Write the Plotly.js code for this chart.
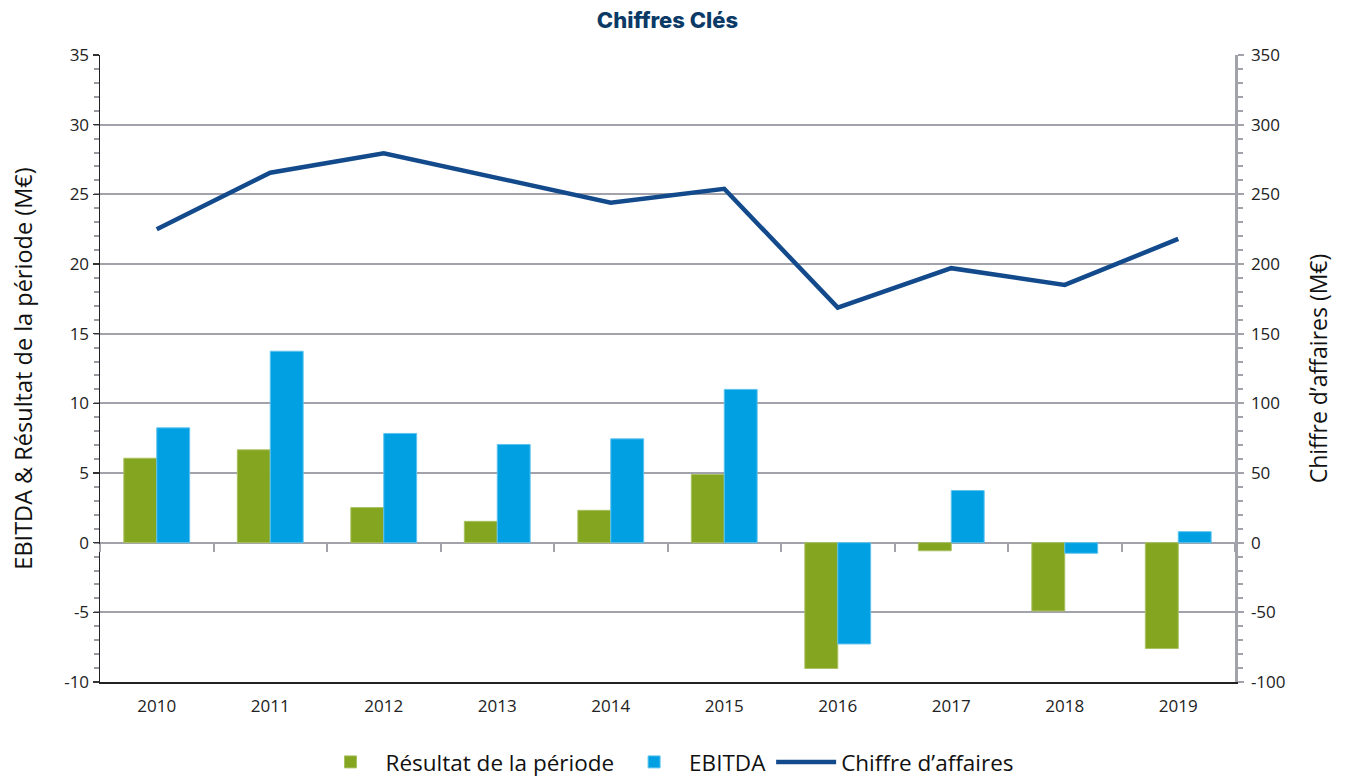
<!DOCTYPE html>
<html>
<head>
<meta charset="utf-8">
<script src="https://cdn.plot.ly/plotly-3.0.1.min.js"></script>
<style>html,body{margin:0;padding:0;background:#fff;}#chart{width:1352px;height:778px;}</style>
</head>
<body>
<div id="chart"></div>
<script>
// ---- data ----
const years = ['2010','2011','2012','2013','2014','2015','2016','2017','2018','2019'];
const resultat = [6.06, 6.66, 2.52, 1.53, 2.32, 4.89, -9.03, -0.58, -4.9, -7.6];
const ebitda = [8.24, 13.74, 7.84, 7.05, 7.45, 11.0, -7.27, 3.74, -0.76, 0.79];
const chiffreAffaires = [225, 265.5, 279.5, 262, 244, 254, 168.7, 197, 185, 218];
const leftTicks = [-10, -5, 0, 5, 10, 15, 20, 25, 30, 35];
const leftTickText = ['-10', '-5', '0', '5', '10', '15', '20', '25', '30', '35'];
const rightTicks = [-100, -50, 0, 50, 100, 150, 200, 250, 300, 350];
const rightTickText = ['-100', '-50', '0', '50', '100', '150', '200', '250', '300', '350'];

const GREEN = '#83a51f', BLUE = '#00a0e3', NAVY = '#134a8c', GRID = '#a2a3aa';
const tickFont = {family: 'Open Sans, sans-serif', size: 17, color: '#222'};
const labelFont = {family: 'Open Sans, sans-serif', size: 23.5, color: '#111'};
const rightLabelFont = {family: 'Open Sans, sans-serif', size: 23, color: '#111'};
const legendFont = {family: 'Open Sans, sans-serif', size: 22.5, color: '#111'};

const traces = [
  {type: 'bar', name: 'Résultat de la période', x: years, y: resultat, xaxis: 'x', yaxis: 'y',
   marker: {color: GREEN, line: {width: 1, color: '#a9c062'}}},
  {type: 'bar', name: 'EBITDA', x: years, y: ebitda, xaxis: 'x', yaxis: 'y',
   marker: {color: BLUE, line: {width: 1, color: '#5fc3ee'}}},
  {type: 'scatter', mode: 'lines', name: 'Chiffre d’affaires', x: years, y: chiffreAffaires,
   xaxis: 'x2', yaxis: 'y2', line: {color: NAVY, width: 4.5}}
];

const layout = {
  width: 1352, height: 778,
  margin: {l: 100, r: 117, t: 55, b: 96, autoexpand: false},
  paper_bgcolor: '#fff', plot_bgcolor: 'rgba(0,0,0,0)',
  barmode: 'group', bargap: 0.42, bargroupgap: 0,
  title: {text: 'Chiffres Clés', x: 0.5, xref: 'paper', xanchor: 'center',
          y: 1 - 20/778, yref: 'container', yanchor: 'middle',
          font: {family: 'Inter, sans-serif', size: 22, weight: 800, color: '#0b3a66'}},
  showlegend: true,
  legend: {orientation: 'h', x: 0.5, xanchor: 'center', y: -0.128, yanchor: 'middle',
           font: legendFont, itemwidth: 60, traceorder: 'normal', itemclick: false},
  xaxis: {type: 'category', range: [-0.5, 9.5], showgrid: false, zeroline: false,
          showline: true, linecolor: '#222', linewidth: 1.5, ticks: '',
          tickfont: tickFont, ticklabelstandoff: 8, fixedrange: true},
  xaxis2: {type: 'category', overlaying: 'x', anchor: 'free', position: 10/45,
           range: [-0.5, 9.5], tickson: 'boundaries', ticks: 'outside', ticklen: 8,
           tickwidth: 2, tickcolor: GRID, showticklabels: false, showgrid: false,
           showline: false, zeroline: false, fixedrange: true},
  yaxis: {range: [-10, 35], tickmode: 'array', tickvals: leftTicks, ticktext: leftTickText,
          showgrid: true, gridcolor: GRID, gridwidth: 2, zeroline: false,
          showline: true, linecolor: '#222', linewidth: 1.5,
          ticks: 'outside', ticklen: 6, tickwidth: 1.5, tickcolor: '#333',
          minor: {dtick: 1, tick0: 0, ticks: 'outside', ticklen: 5, tickwidth: 2, tickcolor: '#9a9ba2', showgrid: false},
          tickfont: tickFont,
          title: {text: 'EBITDA & Résultat de la période (M€)', font: labelFont, standoff: 25},
          fixedrange: true},
  yaxis2: {overlaying: 'y', side: 'right', anchor: 'x', range: [-100, 350], tickmode: 'array',
           tickvals: rightTicks, ticktext: rightTickText,
           showgrid: false, zeroline: false, showline: true, linecolor: GRID, linewidth: 2.5,
           ticks: 'outside', ticklen: 6, tickwidth: 2, tickcolor: GRID,
           minor: {dtick: 10, tick0: 0, ticks: 'outside', ticklen: 5, tickwidth: 2, tickcolor: GRID, showgrid: false},
           tickfont: tickFont, ticklabelstandoff: 4,
           title: {text: 'Chiffre d’affaires (M€)', font: rightLabelFont, standoff: 27},
           fixedrange: true}
};

Plotly.newPlot('chart', traces, layout, {displayModeBar: false, staticPlot: true});
</script>
</body>
</html>
